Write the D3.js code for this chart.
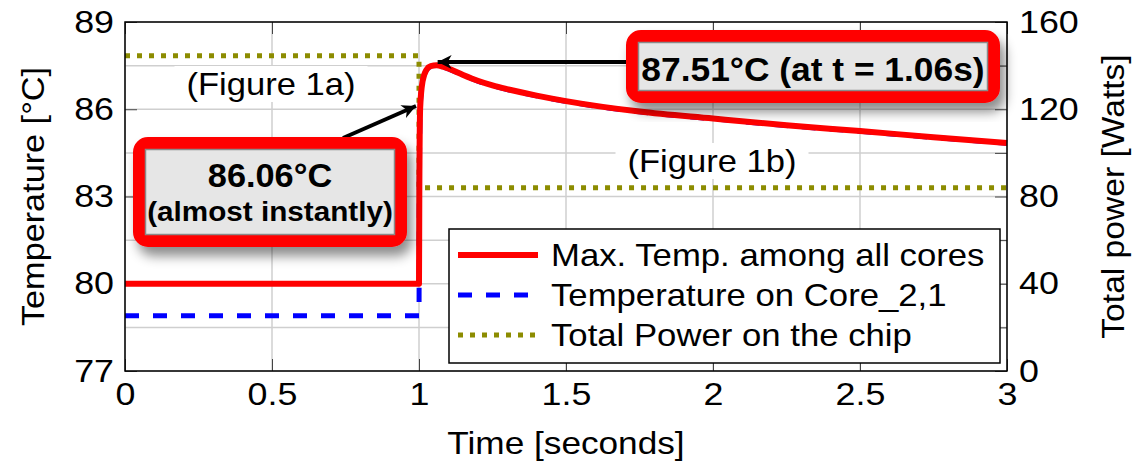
<!DOCTYPE html>
<html>
<head>
<meta charset="utf-8">
<script src="https://cdn.jsdelivr.net/npm/d3@7"></script>
<style>
  body { margin: 0; background: #fff; }
  svg text { font-family: "Liberation Sans", Arial, Helvetica, sans-serif; fill: #000; }
</style>
</head>
<body>
<div id="chart"></div>
<script>
// data
var timeTicks = [0, 0.5, 1, 1.5, 2, 2.5, 3];
var tempTicks = [77, 80, 83, 86, 89];
var tempGrid = [77, 78.5, 80, 81.5, 83, 84.5, 86, 87.5, 89];
var powerTicks = [0, 40, 80, 120, 160];
var powerMinor = [0, 20, 40, 60, 80, 100, 120, 140, 160];

var maxTime = [0, 1.0, 1.001, 1.004, 1.012, 1.025, 1.04, 1.06, 1.08, 1.1, 1.15, 1.2, 1.25, 1.3, 1.4, 1.5, 1.75, 2.0, 2.25, 2.5, 2.75, 3.0];
var maxTemp = [80, 80, 83, 86.06, 86.95, 87.35, 87.48, 87.51, 87.47, 87.4, 87.18, 86.98, 86.82, 86.69, 86.47, 86.28, 85.92, 85.68, 85.45, 85.25, 85.04, 84.84];

var coreTime = [0, 1.0, 1.001, 1.004, 1.012, 1.025, 1.04, 1.06, 1.08, 1.1, 1.15, 1.2, 1.25, 1.3, 1.4, 1.5, 1.75, 2.0, 2.25, 2.5, 2.75, 3.0];
var coreTemp = [78.9, 78.9, 83, 86.05, 86.94, 87.34, 87.47, 87.5, 87.46, 87.39, 87.17, 86.97, 86.81, 86.68, 86.46, 86.27, 85.91, 85.67, 85.44, 85.24, 85.03, 84.83];

var powerTime = [0, 1.0, 1.0, 3.0];
var powerWatts = [144.5, 144.5, 84, 84];

var legendLabels = ["Max. Temp. among all cores", "Temperature on Core_2,1", "Total Power on the chip"];

var W = 1145, H = 462;
var L = 125, R = 1007, T = 22, B = 371;

var svg = d3.select("#chart").append("svg")
    .attr("width", W)
    .attr("height", H);

// widen text horizontally around its anchor point
function stretch(sel, k) {
    sel.each(function () {
        var bb = this.getBBox();
        var a = getComputedStyle(this).textAnchor;
        var cx = a == "middle" ? bb.x + bb.width / 2 : (a == "end" ? bb.x + bb.width : bb.x);
        d3.select(this).attr("transform", "translate(" + cx + ",0) scale(" + k + ",1) translate(" + (-cx) + ",0)");
    });
}

var defs = svg.append("defs");
var f = defs.append("filter").attr("id", "shadow")
    .attr("x", "-20%").attr("y", "-30%").attr("width", "140%").attr("height", "170%");
f.append("feDropShadow").attr("dx", 5).attr("dy", 9).attr("stdDeviation", 6)
    .attr("flood-color", "#000").attr("flood-opacity", 0.45);
defs.append("marker").attr("id", "arrow")
    .attr("markerUnits", "userSpaceOnUse")
    .attr("markerWidth", 20).attr("markerHeight", 20)
    .attr("refX", 14).attr("refY", 8).attr("orient", "auto")
    .append("path").attr("d", "M0,1 L14,8 L0,15 L4,8 Z").attr("fill", "#000");

var x = d3.scaleLinear().domain([0, 3]).range([L, R]);
var yT = d3.scaleLinear().domain([77, 89]).range([B, T]);
var yP = d3.scaleLinear().domain([0, 160]).range([B, T]);

// grid
var grid = svg.append("g");
grid.selectAll(".vg").data(timeTicks).enter().append("line")
    .attr("x1", d => x(d)).attr("x2", d => x(d))
    .attr("y1", T).attr("y2", B)
    .attr("stroke", "#cfcfcf").attr("stroke-width", 1.5);
grid.selectAll(".hg").data(tempGrid).enter().append("line")
    .attr("x1", L).attr("x2", R)
    .attr("y1", d => yT(d)).attr("y2", d => yT(d))
    .attr("stroke", "#cfcfcf").attr("stroke-width", 1.5);

// figure labels with white background
function figLabel(txt, cx, base) {
    var g = svg.append("g");
    var t = g.append("text").attr("x", cx).attr("y", base)
        .attr("text-anchor", "middle").attr("font-size", 32).text(txt);
    var bb = t.node().getBBox();
    var w = bb.width * 1.08;
    g.insert("rect", "text").attr("x", cx - w / 2 - 12).attr("y", bb.y)
        .attr("width", w + 24).attr("height", bb.height).attr("fill", "#fff");
    stretch(t, 1.08);
}
figLabel("(Figure 1a)", 271, 95);
figLabel("(Figure 1b)", 712, 172);

// axes (ticks pointing inward)
function tickAxis(axis, tr) {
    var g = svg.append("g").attr("transform", tr).call(axis);
    g.select(".domain").remove();
    g.selectAll(".tick line").attr("stroke", "#444").attr("stroke-width", 1);
    g.selectAll("text").attr("font-size", 32).attr("fill", "#000")
        .style("font-family", "'Liberation Sans', Arial, sans-serif");
    stretch(g.selectAll("text"), 1.12);
    return g;
}
tickAxis(d3.axisBottom(x).tickValues(timeTicks).tickSize(-12).tickPadding(11)
    .tickFormat(d3.format("")), "translate(0," + B + ")");
tickAxis(d3.axisTop(x).tickValues(timeTicks).tickSize(-12).tickFormat(""), "translate(0," + T + ")");
tickAxis(d3.axisLeft(yT).tickValues(tempTicks).tickSize(-12).tickPadding(11), "translate(" + L + ",0)");
tickAxis(d3.axisRight(yP).tickValues(powerMinor).tickSize(-12).tickFormat(""), "translate(" + R + ",0)");
tickAxis(d3.axisRight(yP).tickValues(powerTicks).tickSize(0).tickPadding(12), "translate(" + R + ",0)");

// data lines
var lineT = d3.line().x(d => x(d[0])).y(d => yT(d[1]));
var lineP = d3.line().x(d => x(d[0])).y(d => yP(d[1]));

svg.append("path").datum(d3.zip(powerTime, powerWatts))
    .attr("d", lineP).attr("fill", "none")
    .attr("stroke", "#8c8c00").attr("stroke-width", 5).attr("stroke-dasharray", "5,7");
svg.append("path").datum(d3.zip(coreTime, coreTemp))
    .attr("d", lineT.curve(d3.curveMonotoneX)).attr("fill", "none")
    .attr("stroke", "#0000ff").attr("stroke-width", 5).attr("stroke-dasharray", "14,14");
svg.append("path").datum(d3.zip(maxTime, maxTemp))
    .attr("d", lineT.curve(d3.curveMonotoneX)).attr("fill", "none")
    .attr("stroke", "#ff0000").attr("stroke-width", 6).attr("stroke-linejoin", "round");

// plot frame
svg.append("rect").attr("x", L).attr("y", T).attr("width", R - L).attr("height", B - T)
    .attr("fill", "none").attr("stroke", "#000").attr("stroke-width", 1.5);

// axis titles
var xt = svg.append("text").attr("x", (L + R) / 2).attr("y", 454).attr("text-anchor", "middle")
    .attr("font-size", 32).text("Time [seconds]");
stretch(xt, 1.1);
svg.append("text").attr("transform", "translate(44," + ((T + B) / 2) + ") rotate(-90) scale(1.07,1)")
    .attr("text-anchor", "middle").attr("font-size", 32).text("Temperature [\u00B0C]");
svg.append("text").attr("transform", "translate(1124," + ((T + B) / 2) + ") rotate(-90) scale(1.05,1)")
    .attr("text-anchor", "middle").attr("font-size", 32).text("Total power [Watts]");

// legend
var lg = svg.append("g");
lg.append("rect").attr("x", 449).attr("y", 229).attr("width", 551).attr("height", 134)
    .attr("fill", "#fff").attr("stroke", "#000").attr("stroke-width", 1.5);
var lstyle = [
    {c: "#ff0000", w: 6, dash: null},
    {c: "#0000ff", w: 5, dash: "14,14"},
    {c: "#8c8c00", w: 5, dash: "5,7"}
];
legendLabels.forEach(function (name, i) {
    var yy = 255 + i * 40;
    lg.append("line").attr("x1", 458).attr("x2", 538).attr("y1", yy).attr("y2", yy)
        .attr("stroke", lstyle[i].c).attr("stroke-width", lstyle[i].w)
        .attr("stroke-dasharray", lstyle[i].dash);
    var t = lg.append("text").attr("x", 551).attr("y", yy + 11).attr("font-size", 31).text(name);
    stretch(t, 1.12);
});

// annotations
function arrow(x1, y1, x2, y2) {
    svg.append("line").attr("x1", x1).attr("y1", y1).attr("x2", x2).attr("y2", y2)
        .attr("stroke", "#000").attr("stroke-width", 4).attr("marker-end", "url(#arrow)");
}
arrow(626, 62, x(1.06) + 1, 62);
arrow(343, 138, 416, 106);

function callout(bx, by, bw, bh) {
    var g = svg.append("g");
    g.append("rect").attr("x", bx + 6).attr("y", by + 6).attr("width", bw - 12).attr("height", bh - 12)
        .attr("rx", 9).attr("fill", "#e6e6e6").attr("stroke", "#ff0000").attr("stroke-width", 12)
        .attr("filter", "url(#shadow)");
    g.append("rect").attr("x", bx + 12.5).attr("y", by + 12.5).attr("width", bw - 25).attr("height", bh - 25)
        .attr("fill", "none").attr("stroke", "#8a8a8a").attr("stroke-width", 1.5);
    return g;
}
var c1 = callout(626, 30, 374, 73);
stretch(c1.append("text").attr("x", 813).attr("y", 81).attr("text-anchor", "middle")
    .attr("font-size", 34).attr("font-weight", "bold").text("87.51\u00B0C (at t = 1.06s)"), 1.04);
var c2 = callout(133, 137, 274, 110);
stretch(c2.append("text").attr("x", 270).attr("y", 187).attr("text-anchor", "middle")
    .attr("font-size", 33).attr("font-weight", "bold").text("86.06\u00B0C"), 1.04);
stretch(c2.append("text").attr("x", 270).attr("y", 221).attr("text-anchor", "middle")
    .attr("font-size", 28).attr("font-weight", "bold").text("(almost instantly)"), 1.06);
</script>
</body>
</html>
